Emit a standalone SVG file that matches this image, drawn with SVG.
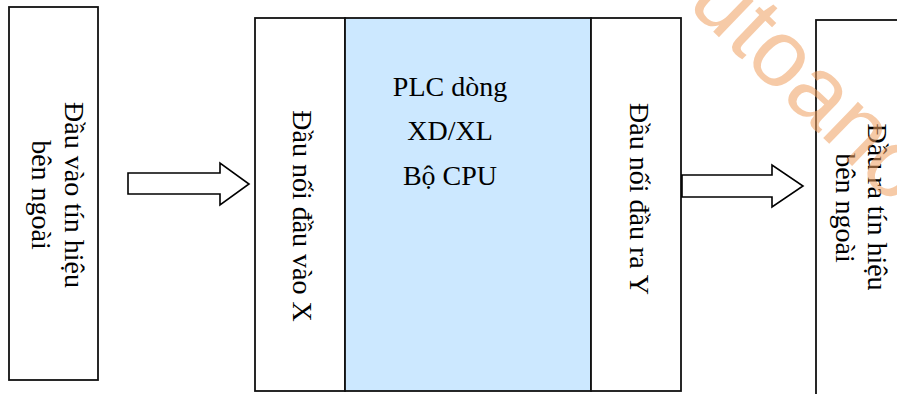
<svg xmlns="http://www.w3.org/2000/svg" width="897" height="394" viewBox="0 0 897 394">
  <style>
    .box { fill: #ffffff; stroke: #111111; stroke-width: 1.8; }
    .cpu { fill: #CCE8FF; stroke: #111111; stroke-width: 1.8; }
    .arrow { fill: #ffffff; stroke: #000000; stroke-width: 1.6; stroke-linejoin: miter; }
    .t { font-family: "Liberation Serif", "Times New Roman", serif; font-size: 28px; fill: #000000; }
    .wm { font-family: "Liberation Sans", Arial, sans-serif; font-size: 95px; fill: #F0A060; opacity: 0.55; }
  </style>
  <rect width="897" height="394" fill="#ffffff"/>

  <g id="ext-input">
    <rect class="box" x="9" y="7" width="89" height="373"/>
    <text class="t" text-anchor="middle" transform="translate(65,195) rotate(90)">Đầu vào tín hiệu</text>
    <text class="t" text-anchor="middle" transform="translate(32,195) rotate(90)">bên ngoài</text>
  </g>

  <g id="input-x">
    <rect class="box" x="255" y="18" width="90" height="373"/>
    <text class="t" text-anchor="middle" transform="translate(293,216) rotate(90)">Đầu nối đầu vào X</text>
  </g>

  <g id="cpu">
    <rect class="cpu" x="345" y="18" width="246" height="373"/>
    <text class="t" x="450" y="96" text-anchor="middle">PLC dòng</text>
    <text class="t" x="450" y="140" text-anchor="middle">XD/XL</text>
    <text class="t" x="450" y="185" text-anchor="middle">Bộ CPU</text>
  </g>

  <g id="output-y">
    <rect class="box" x="591" y="18" width="90" height="373"/>
    <text class="t" text-anchor="middle" transform="translate(630,199) rotate(90)">Đầu nối đầu ra Y</text>
  </g>

  <g id="ext-output">
    <rect class="box" x="816" y="20" width="140" height="400"/>
    <text class="t" text-anchor="middle" transform="translate(868,207) rotate(90)">Đầu ra tín hiệu</text>
    <text class="t" text-anchor="middle" transform="translate(836,208) rotate(90)">bên ngoài</text>
  </g>

  <g id="connectors">
    <polygon class="arrow" points="128,173 220,173 220,163 249,184 220,205 220,194 128,194"/>
    <polygon class="arrow" points="682,175 772,175 772,165 803,186 772,207 772,197 682,197"/>
  </g>

  <text class="wm" text-anchor="middle" transform="translate(790,106) rotate(44)">utoano</text>
</svg>
